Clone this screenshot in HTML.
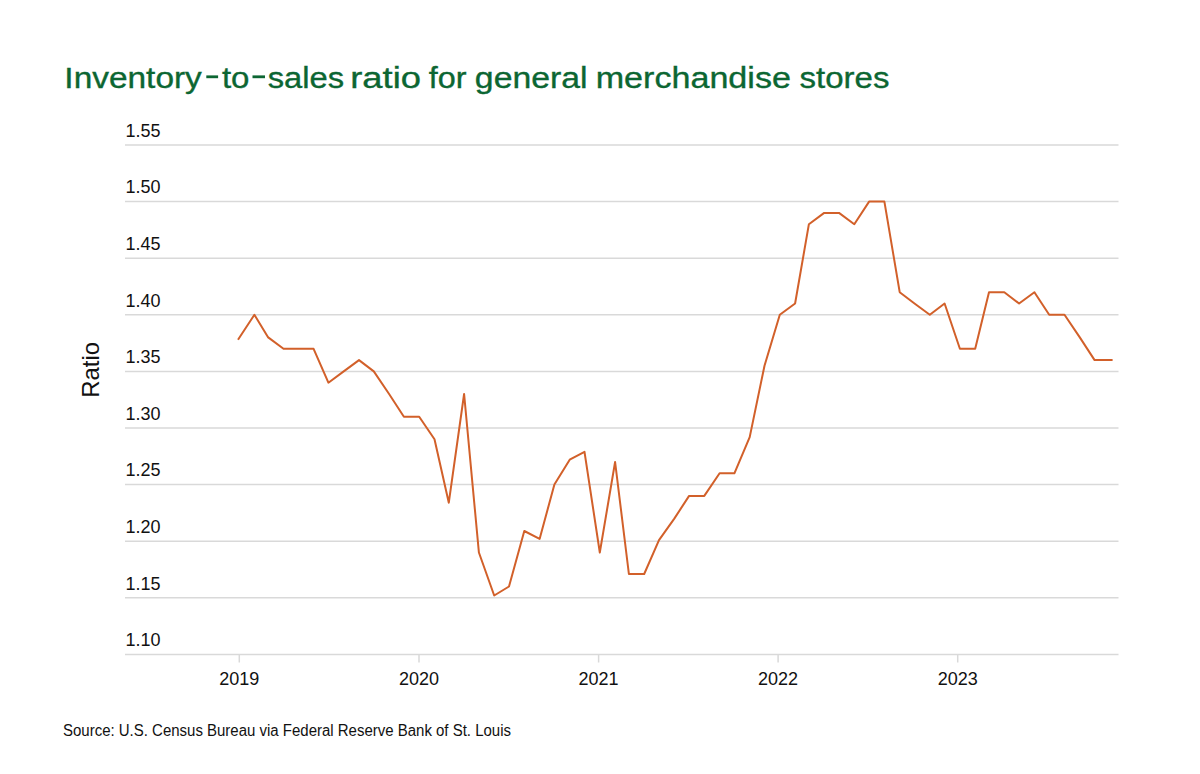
<!DOCTYPE html>
<html><head><meta charset="utf-8">
<style>
html,body{margin:0;padding:0;background:#fff;}
body{width:1200px;height:774px;overflow:hidden;}
svg{display:block;}
text{font-family:"Liberation Sans", sans-serif;}
</style></head>
<body>
<svg width="1200" height="774" viewBox="0 0 1200 774">
<rect width="1200" height="774" fill="#ffffff"/>
<g font-size="29.5" fill="#0c6632" stroke="#0c6632" stroke-width="0.35">
<text transform="translate(64.35,87.5) scale(1.1335,1)">Inventory</text>
<text transform="translate(221.90,87.5) scale(1.1187,1)">to</text>
<text transform="translate(267.64,87.5) scale(1.1097,1)">sales</text>
<text transform="translate(350.23,87.5) scale(1.2333,1)">ratio</text>
<text transform="translate(428.70,87.5) scale(1.0971,1)">for</text>
<text transform="translate(474.85,87.5) scale(1.1458,1)">general</text>
<text transform="translate(595.69,87.5) scale(1.1566,1)">merchandise</text>
<text transform="translate(799.58,87.5) scale(1.1192,1)">stores</text>
<rect x="206.3" y="75.4" width="11.8" height="2.8" stroke="none"/>
<rect x="252.5" y="75.4" width="12.5" height="2.8" stroke="none"/>
</g>
<g stroke="#d9d9d9" stroke-width="1.5">
<line x1="125" y1="654.4" x2="1118.5" y2="654.4" />
<line x1="125" y1="597.8" x2="1118.5" y2="597.8" />
<line x1="125" y1="541.2" x2="1118.5" y2="541.2" />
<line x1="125" y1="484.6" x2="1118.5" y2="484.6" />
<line x1="125" y1="428.0" x2="1118.5" y2="428.0" />
<line x1="125" y1="371.4" x2="1118.5" y2="371.4" />
<line x1="125" y1="314.8" x2="1118.5" y2="314.8" />
<line x1="125" y1="258.2" x2="1118.5" y2="258.2" />
<line x1="125" y1="201.6" x2="1118.5" y2="201.6" />
<line x1="125" y1="145.0" x2="1118.5" y2="145.0" />
<line x1="239.3" y1="654.4" x2="239.3" y2="662.5" />
<line x1="419.0" y1="654.4" x2="419.0" y2="662.5" />
<line x1="598.6" y1="654.4" x2="598.6" y2="662.5" />
<line x1="778.1" y1="654.4" x2="778.1" y2="662.5" />
<line x1="957.7" y1="654.4" x2="957.7" y2="662.5" />
</g>
<g font-size="18" fill="#111111">
<text x="125.5" y="646.2">1.10</text>
<text x="125.5" y="589.6">1.15</text>
<text x="125.5" y="533.0">1.20</text>
<text x="125.5" y="476.4">1.25</text>
<text x="125.5" y="419.8">1.30</text>
<text x="125.5" y="363.2">1.35</text>
<text x="125.5" y="306.6">1.40</text>
<text x="125.5" y="250.0">1.45</text>
<text x="125.5" y="193.4">1.50</text>
<text x="125.5" y="136.8">1.55</text>
</g>
<g font-size="18" fill="#111111" text-anchor="middle">
<text x="239.3" y="684.7">2019</text>
<text x="419.0" y="684.7">2020</text>
<text x="598.6" y="684.7">2021</text>
<text x="778.1" y="684.7">2022</text>
<text x="957.7" y="684.7">2023</text>
</g>
<text transform="translate(98.6,369.8) rotate(-90)" text-anchor="middle" font-size="24" fill="#111111">Ratio</text>
<polyline points="238.0,339.7 254.4,314.8 268.2,337.4 283.5,348.8 298.3,348.8 313.6,348.8 328.4,382.7 343.7,371.4 359.0,360.1 373.8,371.4 389.1,394.0 403.9,416.7 419.2,416.7 434.5,439.3 448.8,502.7 464.1,394.0 478.9,552.5 494.2,595.5 509.0,586.5 524.3,531.0 539.6,538.9 554.4,484.6 569.7,459.7 584.5,451.8 599.8,552.5 615.1,462.0 628.9,574.0 644.2,574.0 659.0,540.1 674.3,518.6 689.1,495.9 704.3,495.9 719.6,473.3 734.4,473.3 749.7,437.1 764.5,365.7 779.8,314.8 795.1,303.5 808.9,224.2 824.2,212.9 839.0,212.9 854.3,224.2 869.1,201.6 884.4,201.6 899.7,292.2 914.5,303.5 929.8,314.8 944.6,303.5 959.9,348.8 975.2,348.8 989.0,292.2 1004.3,292.2 1019.1,303.5 1034.4,292.2 1049.2,314.8 1064.5,314.8 1079.8,337.4 1094.6,360.1 1112.6,360.1" fill="none" stroke="#d2602a" stroke-width="2" stroke-linejoin="round" stroke-linecap="butt"/>
<text x="63" y="736" font-size="16" fill="#111111" textLength="448" lengthAdjust="spacingAndGlyphs">Source: U.S. Census Bureau via Federal Reserve Bank of St. Louis</text>
</svg>
</body></html>
